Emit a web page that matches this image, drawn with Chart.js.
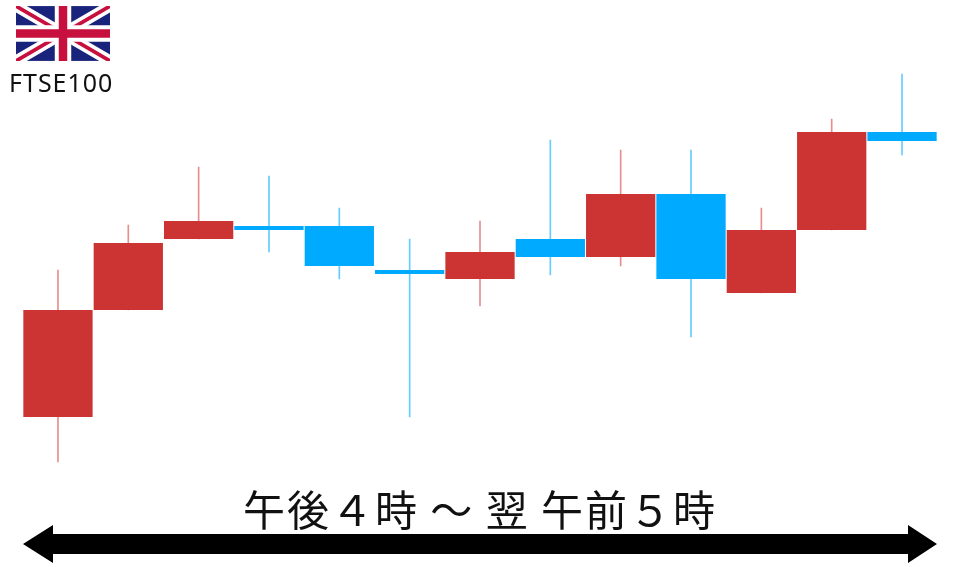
<!DOCTYPE html>
<html lang="ja">
<head>
    <meta charset="UTF-8">
    <title>FTSE100</title>
    <script src="https://cdn.jsdelivr.net/npm/chart.js"></script>
    <style>
        html, body { margin: 0; padding: 0; background: #fff; overflow: hidden; }
        #wrap { position: relative; width: 960px; height: 567px; }
        #chart { position: absolute; left: 0; top: 0; }
        #flag { position: absolute; left: 16px; top: 6px; }
        #index { position: absolute; left: 9px; top: 65px; font: 25px "Noto Sans", sans-serif; letter-spacing: 1px; color: #111; white-space: nowrap; }
        #session { position: absolute; left: 0; top: 480px; width: 960px; text-align: center; font: 42px "Noto Sans CJK JP", sans-serif; letter-spacing: 2px; line-height: 56px; color: #111; white-space: pre; }
        #arrow { position: absolute; left: 0; top: 520px; }
    </style>
</head>
<body>
<div id="wrap">
    <canvas id="chart" width="960" height="567"></canvas>
    <svg id="flag" width="94" height="55" viewBox="0 0 60 35">
        <clipPath id="c"><rect width="60" height="35"/></clipPath>
        <g clip-path="url(#c)">
            <rect width="60" height="35" fill="#1a237b"/>
            <path d="M0 0L60 35M60 0L0 35" stroke="#fff" stroke-width="7"/>
            <path d="M0 0L60 35M60 0L0 35" stroke="#c8103e" stroke-width="2.4"/>
            <path d="M30 0V35M0 17.5H60" stroke="#fff" stroke-width="10.5"/>
            <path d="M30 0V35M0 17.5H60" stroke="#c8103e" stroke-width="5.4"/>
        </g>
    </svg>
    <div id="index">FTSE100</div>
    <div id="session">午後４時 ～ 翌 午前５時</div>
    <svg id="arrow" width="960" height="47">
        <path d="M23 24L53 5V14H908V5L937 24L908 43V34H53V43Z" fill="#000"/>
    </svg>
</div>
<script>
    // one candle per period, levels measured up from the bottom of the picture
    const periods = ["1", "2", "3", "4", "5", "6", "7", "8", "9", "10", "11", "12", "13"];
    const opens = [150, 257, 328, 341, 341, 297, 288, 328, 310, 373, 274, 337, 435];
    const closes = [257, 324, 346, 337, 301, 293, 315, 310, 373, 288, 337, 435, 426];
    const highs = [297, 342, 400, 391, 359, 328, 346, 427, 417, 417, 359, 448, 493];
    const lows = [105, 257, 328, 315, 288, 150, 261, 292, 301, 230, 274, 337, 412];

    const RED = "#cc3333";
    const BLUE = "#00aaff";
    const isUp = (i) => closes[i] > opens[i];

    new Chart(document.getElementById("chart"), {
        type: "bar",
        data: {
            labels: periods,
            datasets: [
                {
                    label: "body",
                    data: periods.map((p, i) => [opens[i], closes[i]]),
                    backgroundColor: periods.map((p, i) => isUp(i) ? RED : BLUE),
                    borderWidth: 0,
                    barPercentage: 1,
                    categoryPercentage: 0.985,
                    grouped: false,
                    order: 1
                },
                {
                    label: "wick",
                    data: periods.map((p, i) => [lows[i], highs[i]]),
                    backgroundColor: periods.map((p, i) => isUp(i) ? "#e58f8f" : "#66ccff"),
                    borderWidth: 0,
                    barThickness: 1,
                    grouped: false,
                    order: 2
                }
            ]
        },
        options: {
            responsive: false,
            animation: false,
            layout: { padding: { left: 22.8, right: 22.8, top: 0, bottom: 0 } },
            plugins: { legend: { display: false }, tooltip: { enabled: false } },
            scales: {
                x: { display: false },
                y: { display: false, min: 0, max: 567 }
            }
        }
    });
</script>
</body>
</html>
